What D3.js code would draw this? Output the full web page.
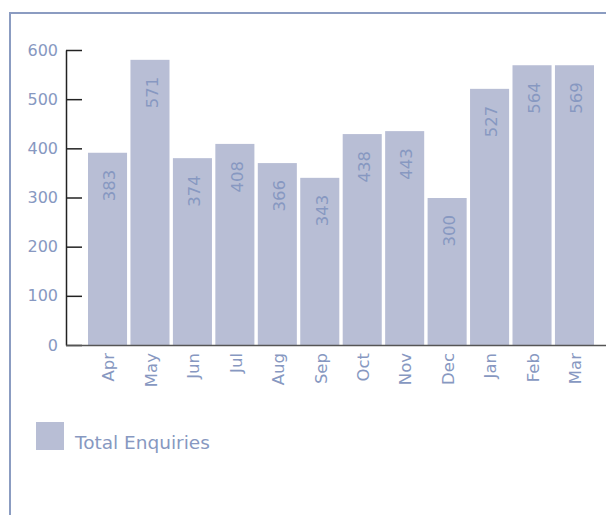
<!DOCTYPE html>
<html>
<head>
<meta charset="utf-8">
<script src="https://cdn.jsdelivr.net/npm/d3@7"></script>
<style>
  body { margin: 0; background: #fff; }
  text { font-family: "DejaVu Sans", Verdana, sans-serif; }
</style>
</head>
<body>
<div class="chart"></div>
<script>
// months along the x axis
var months = ["Apr", "May", "Jun", "Jul", "Aug", "Sep", "Oct", "Nov", "Dec", "Jan", "Feb", "Mar"];
// bar heights as drawn
var barValues = [391, 580, 380, 409, 370, 340, 429, 435, 299, 521, 569, 569];
// numbers printed inside the bars
var labelValues = [383, 571, 374, 408, 366, 343, 438, 443, 300, 527, 564, 569];
var yTicks = [0, 100, 200, 300, 400, 500, 600];
var seriesName = "Total Enquiries";

var svgWidth = 606;
var svgHeight = 515;
var barColor = "#b8bed5";
var textColor = "#8798c1";

var svg = d3.select(".chart")
  .append("svg")
  .attr("width", svgWidth)
  .attr("height", svgHeight);

// frame lines on top and left
svg.append("path")
  .attr("d", "M10,515 V13 H606")
  .attr("fill", "none")
  .attr("stroke", "#8b9cc1")
  .attr("stroke-width", 2);

var xScale = d3.scaleBand()
  .domain(months)
  .range([88, 594])
  .paddingInner(0.08)
  .paddingOuter(0);

var yScale = d3.scaleLinear()
  .domain([0, 600])
  .range([345, 50]);

// bars
svg.append("g").selectAll("rect")
  .data(months)
  .enter()
  .append("rect")
  .attr("x", function(d) { return xScale(d); })
  .attr("y", function(d, i) { return yScale(barValues[i]); })
  .attr("width", xScale.bandwidth())
  .attr("height", function(d, i) { return yScale(0) - yScale(barValues[i]) + 1; })
  .attr("fill", barColor);

// value labels, rotated inside the bars
svg.append("g").selectAll("text")
  .data(months)
  .enter()
  .append("text")
  .attr("transform", function(d, i) {
    var x = xScale(d) + xScale.bandwidth() / 2 + 2;
    var y = yScale(barValues[i]) + 17;
    return "translate(" + x + "," + y + ") rotate(-90)";
  })
  .attr("dy", "0.35em")
  .attr("text-anchor", "end")
  .attr("font-size", 16.5)
  .attr("fill", textColor)
  .text(function(d, i) { return labelValues[i]; });

// y axis, ticks pointing into the plot
var yAxis = d3.axisLeft(yScale)
  .tickValues(yTicks)
  .tickSize(-16)
  .tickPadding(8)
  .tickSizeOuter(0);

var yG = svg.append("g")
  .attr("transform", "translate(66,0)")
  .call(yAxis);
yG.select(".domain").attr("stroke", "#222").attr("stroke-width", 1.5);
yG.selectAll(".tick line").attr("stroke", "#222").attr("stroke-width", 1.5);
yG.selectAll(".tick text")
  .attr("font-size", 16)
  .attr("font-family", "DejaVu Sans, Verdana, sans-serif")
  .attr("fill", textColor);

// x axis line across to the right edge
svg.append("line")
  .attr("x1", 66)
  .attr("x2", svgWidth)
  .attr("y1", yScale(0) + 0.5)
  .attr("y2", yScale(0) + 0.5)
  .attr("stroke", "#555")
  .attr("stroke-width", 1.5);

// month labels, rotated
svg.append("g").selectAll("text")
  .data(months)
  .enter()
  .append("text")
  .attr("transform", function(d) {
    var x = xScale(d) + xScale.bandwidth() / 2 + 1;
    return "translate(" + x + ",353) rotate(-90)";
  })
  .attr("dy", "0.35em")
  .attr("text-anchor", "end")
  .attr("font-size", 16.5)
  .attr("fill", textColor)
  .text(function(d) { return d; });

// legend
var legend = svg.append("g").attr("transform", "translate(36,422)");
legend.append("rect")
  .attr("width", 28)
  .attr("height", 28)
  .attr("fill", barColor);
legend.append("text")
  .attr("x", 39)
  .attr("y", 27)
  .attr("font-size", 18.5)
  .attr("fill", textColor)
  .text(seriesName);
</script>
</body>
</html>
